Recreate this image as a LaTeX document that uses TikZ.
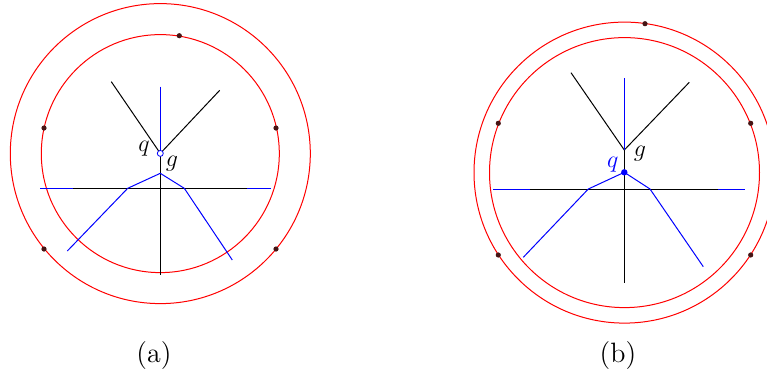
\documentclass[tikz,border=0pt]{standalone}
\begin{document}
\begin{tikzpicture}[x=0.5pt,y=-0.5pt,
  ring/.style={draw=red,line width=0.5pt},
  bl/.style={draw=blue,line width=0.5pt},
  bk/.style={draw=black,line width=0.5pt},
  pt/.style={circle,fill={rgb,255:red,70;green,20;blue,20},inner sep=0pt,minimum size=2.6pt},
  lab/.style={inner sep=0pt,font=\fontsize{12}{14}\selectfont},
  captext/.style={inner sep=0pt,font=\fontsize{14}{16}\selectfont}]
\useasboundingbox (0,0) rectangle (767,377);
\clip (0,0) rectangle (767,377);
% ---------- panel (a) ----------
\coordinate (ca) at (160.3,153.6);
\draw[ring] (ca) circle[radius=150];
\draw[ring] (ca) circle[radius=119];
\coordinate (qa) at (160.3,153.4);
\coordinate (ga) at (160.3,173.3);
\coordinate (atop) at (160.3,86.7);
\coordinate (abot) at (160.3,275);
\coordinate (avl) at (111.3,81.7);
\coordinate (avr) at (219.7,90.3);
\coordinate (ahl) at (40,188.3);
\coordinate (ahr) at (270.7,188.3);
\coordinate (akl) at (73.3,188.3);
\coordinate (akr) at (246.7,188.3);
\coordinate (abl) at (127.7,188.3);
\coordinate (abr) at (184.3,188.3);
\coordinate (aol) at (67.3,251);
\coordinate (aor) at (232.3,260);
\draw[bl] (ahl) -- (ahr);
\draw[bk] (akl) -- (akr);
\draw[bk] (qa) -- (abot);
\draw[bk] (avl) -- (qa) -- (avr);
\draw[bl] (atop) -- (qa);
\draw[bl] (aol) -- (abl) -- (ga) -- (abr) -- (aor);
\node[circle,draw=blue,line width=0.4pt,inner sep=0pt,minimum size=3pt,fill=white] (qma) at (qa) {};
\node[lab] (qla) at (144,149) {$q$};
\node[lab] (gla) at (172,163.5) {$g$};
\node[pt] (a1) at (179.3,35.7) {};
\node[pt] (a2) at (44,128) {};
\node[pt] (a3) at (276,128) {};
\node[pt] (a4) at (44,249) {};
\node[pt] (a5) at (276,249) {};
\node[captext] (capa) at (154,356) {(a)};
% ---------- panel (b) ----------
\coordinate (cb) at (624.5,172.6);
\draw[ring] (cb) circle[radius=150.5];
\draw[ring] (cb) circle[radius=135];
\coordinate (gb) at (624.3,150);
\coordinate (qb) at (624.3,172.3);
\coordinate (btop) at (624.3,78.3);
\coordinate (bbot) at (624.3,283.3);
\coordinate (bvl) at (571,72.7);
\coordinate (bvr) at (689.3,82.3);
\coordinate (bhl) at (493.3,189);
\coordinate (bhr) at (745,189);
\coordinate (bkl) at (530,189);
\coordinate (bkr) at (718.3,189);
\coordinate (bbl) at (588.3,189);
\coordinate (bbr) at (650,189);
\coordinate (bol) at (523.3,257.3);
\coordinate (bor) at (703.3,266.7);
\draw[bl] (bhl) -- (bhr);
\draw[bk] (bkl) -- (bkr);
\draw[bk] (gb) -- (bbot);
\draw[bk] (bvl) -- (gb) -- (bvr);
\draw[bl] (btop) -- (gb);
\draw[bl] (bol) -- (bbl) -- (qb) -- (bbr) -- (bor);
\node[circle,fill=blue,inner sep=0pt,minimum size=3.2pt] (qmb) at (qb) {};
\node[lab,text=blue] (qlb) at (612.7,164.5) {$q$};
\node[lab] (glb) at (640,153.3) {$g$};
\node[pt] (b1) at (645,23.7) {};
\node[pt] (b2) at (498.3,123.3) {};
\node[pt] (b3) at (750.7,123.3) {};
\node[pt] (b4) at (498.3,255) {};
\node[pt] (b5) at (750.7,255) {};
\node[captext] (capb) at (618,356) {(b)};
\end{tikzpicture}
\end{document}
